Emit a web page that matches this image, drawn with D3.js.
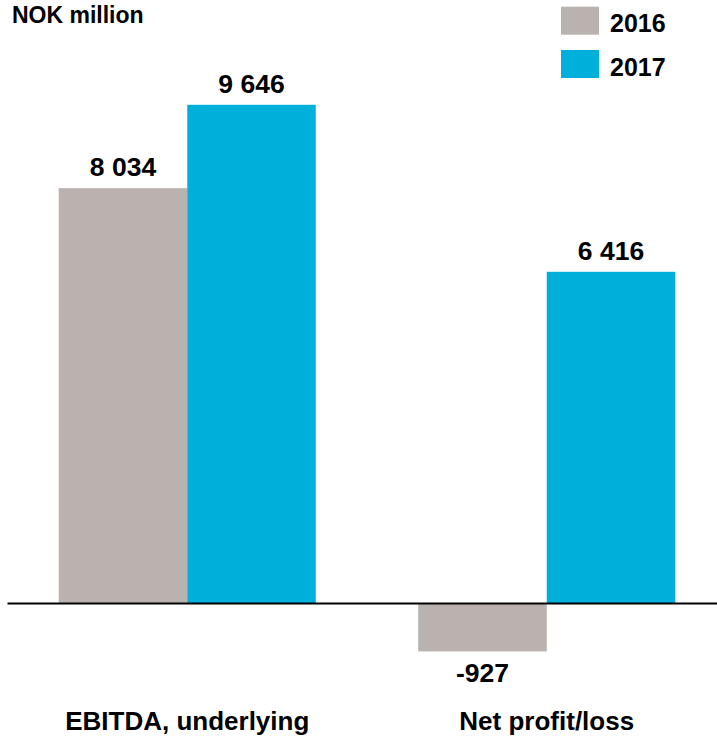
<!DOCTYPE html>
<html>
<head>
<meta charset="utf-8">
<script src="https://cdn.jsdelivr.net/npm/d3@7"></script>
<style>
  html, body { margin: 0; padding: 0; background: #fff; }
  svg { display: block; }
  text { font-family: "Liberation Sans", Arial, sans-serif; font-weight: bold; fill: #000; }
</style>
</head>
<body>
<svg id="chart" width="717" height="738"></svg>
<script>
const categories = ["EBITDA, underlying", "Net profit/loss"];
const years = ["2016", "2017"];
const values2016 = [8034, -927];
const values2017 = [9646, 6416];
const valueLabels2016 = ["8 034", "-927"];
const valueLabels2017 = ["9 646", "6 416"];
const unitLabel = "NOK million";
const colors = { "2016": "#BAB2AF", "2017": "#00B0DB" };

const rows = categories.map((c, i) => ({
  cat: c,
  vals: [
    { year: "2016", v: values2016[i], label: valueLabels2016[i] },
    { year: "2017", v: values2017[i], label: valueLabels2017[i] }
  ]
}));

const svg = d3.select("#chart");
const W = 717;

const x0 = d3.scaleBand().domain(categories).range([7.5, 726.5]).paddingInner(0.285).paddingOuter(0.1425);
const x1 = d3.scaleBand().domain(years).range([0, x0.bandwidth()]).padding(0);
const y = d3.scaleLinear().domain([0, 10000]).range([603.5, 86.5]);

const g = svg.append("g");
const groups = g.selectAll("g.cat").data(rows).join("g")
  .attr("transform", d => `translate(${x0(d.cat)},0)`);

groups.selectAll("rect").data(d => d.vals).join("rect")
  .attr("x", d => x1(d.year))
  .attr("width", x1.bandwidth())
  .attr("y", d => Math.min(y(d.v), y(0)))
  .attr("height", d => Math.abs(y(d.v) - y(0)))
  .attr("fill", d => colors[d.year]);

groups.selectAll("text.val").data(d => d.vals).join("text")
  .attr("class", "val")
  .attr("x", d => x1(d.year) + x1.bandwidth() / 2)
  .attr("y", d => d.v >= 0 ? y(d.v) - 12 : y(d.v) + 31)
  .attr("text-anchor", "middle")
  .style("font-size", "26.5px")
  .text(d => d.label);

// zero line
svg.append("line")
  .attr("x1", 7.5).attr("x2", W)
  .attr("y1", y(0)).attr("y2", y(0))
  .attr("stroke", "#000").attr("stroke-width", 2);

// category labels
svg.selectAll("text.cat").data(categories).join("text")
  .attr("class", "cat")
  .attr("x", d => x0(d) + x0.bandwidth() / 2)
  .attr("y", 730)
  .attr("text-anchor", "middle")
  .style("font-size", "26px")
  .text(d => d);

// unit label
svg.append("text").attr("x", 12).attr("y", 22.5)
  .style("font-size", "23px").text(unitLabel);

// legend
const leg = svg.selectAll("g.leg").data(years).join("g")
  .attr("class", "leg")
  .attr("transform", (d, i) => `translate(561,${6.7 + i * 43.3})`);
leg.append("rect").attr("width", 38).attr("height", 28).attr("fill", d => colors[d]);
leg.append("text").attr("x", 49).attr("y", 25.5)
  .style("font-size", "25px").text(d => d);
</script>
</body>
</html>
